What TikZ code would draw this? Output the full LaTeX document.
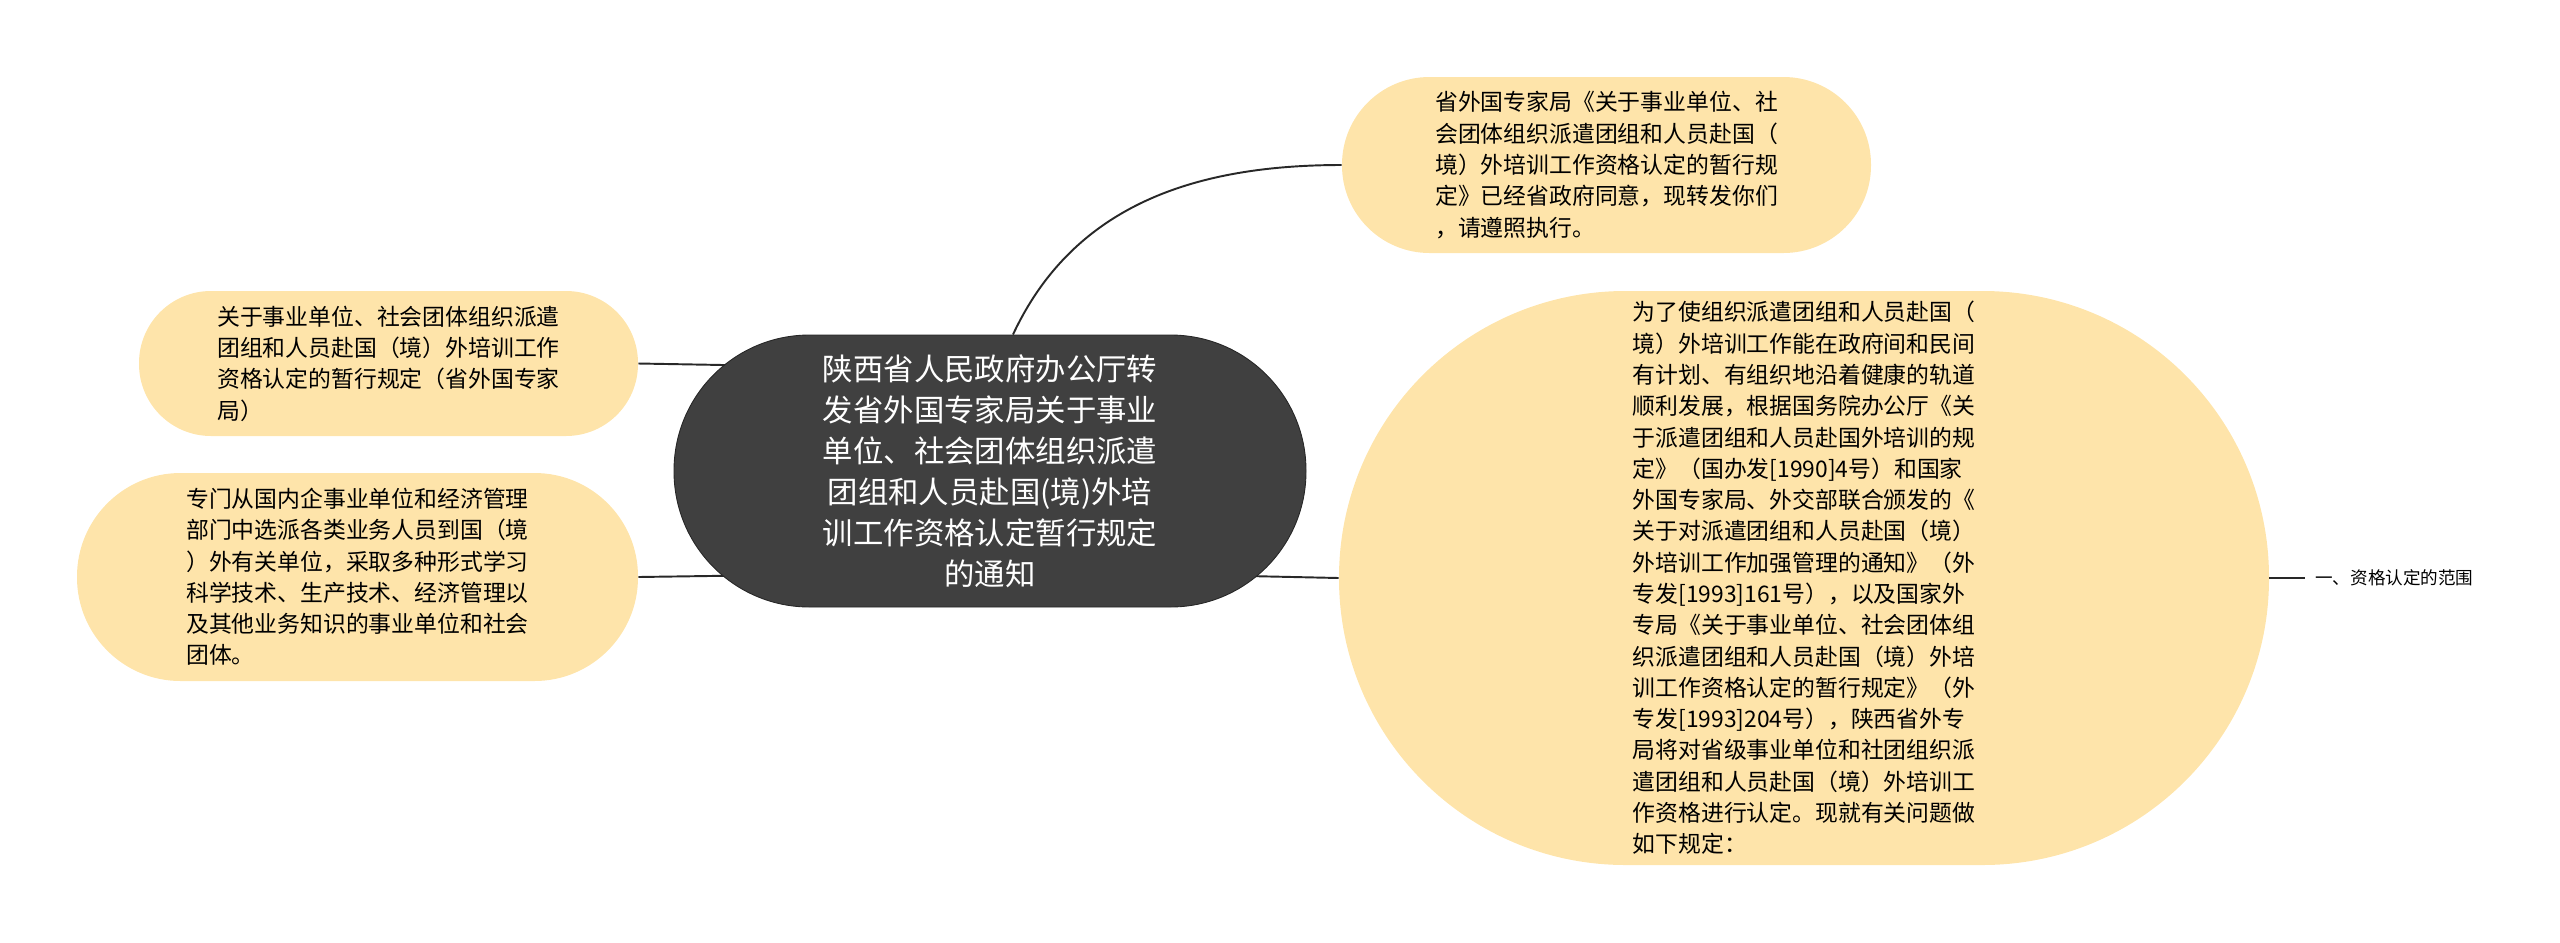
\documentclass[tikz,border=0pt]{standalone}
\usepackage{fontspec}
\usepackage{tikz}
\usetikzlibrary{calc, backgrounds}
\newfontfamily\cjk{Noto Sans CJK SC}
\definecolor{topicdark}{RGB}{64,64,64}
\definecolor{bubbleyellow}{RGB}{254,228,170}
\definecolor{linkdark}{RGB}{40,40,40}

\begin{document}
\begin{tikzpicture}[font=\cjk]
      % Styles
      \tikzset{topic/.style={draw=black!85, line width=0.5pt, fill=topicdark, text=white, align=center, inner sep=0pt, font=\cjk\fontsize{17.3}{23.3}\selectfont}}
      \tikzset{bubble/.style={fill=bubbleyellow, align=left, inner sep=0pt, font=\cjk\fontsize{13}{17.8}\selectfont}}
      \tikzset{link/.style={draw=linkdark, line width=1.1pt}}
      \tikzset{leaf/.style={anchor=west, inner xsep=0.2cm, inner ysep=0pt, font=\cjk\fontsize{10}{12}\selectfont}}

      \useasboundingbox (0,0) rectangle (51.2,-18.84);

      % --- The central topic ---
      \node[topic, minimum width=12.64cm, minimum height=5.44cm, rounded corners=2.71cm] (notice) at (19.8,-9.42)
        {陕西省人民政府办公厅转\\发省外国专家局关于事业\\单位、社会团体组织派遣\\团组和人员赴国(境)外培\\训工作资格认定暂行规定\\的通知};

      % --- Branches on the left ---
      \node[bubble, minimum width=9.98cm, minimum height=2.9cm, rounded corners=1.44cm] (provisions) at (7.77,-7.27)
        {关于事业单位、社会团体组织派遣\\团组和人员赴国（境）外培训工作\\资格认定的暂行规定（省外国专家\\局）};
      \node[bubble, minimum width=11.22cm, minimum height=4.16cm, rounded corners=2.07cm] (units) at (7.15,-11.54)
        {专门从国内企事业单位和经济管理\\部门中选派各类业务人员到国（境\\）外有关单位，采取多种形式学习\\科学技术、生产技术、经济管理以\\及其他业务知识的事业单位和社会\\团体。};

      % --- Branches on the right ---
      \node[bubble, minimum width=10.58cm, minimum height=3.52cm, rounded corners=1.75cm] (forward) at (32.13,-3.3)
        {省外国专家局《关于事业单位、社\\会团体组织派遣团组和人员赴国（\\境）外培训工作资格认定的暂行规\\定》已经省政府同意，现转发你们\\，请遵照执行。};
      \node[bubble, minimum width=18.6cm, minimum height=11.48cm, rounded corners=5.73cm] (basis) at (36.08,-11.56)
        {为了使组织派遣团组和人员赴国（\\境）外培训工作能在政府间和民间\\有计划、有组织地沿着健康的轨道\\顺利发展，根据国务院办公厅《关\\于派遣团组和人员赴国外培训的规\\定》（国办发[1990]4号）和国家\\外国专家局、外交部联合颁发的《\\关于对派遣团组和人员赴国（境）\\外培训工作加强管理的通知》（外\\专发[1993]161号），以及国家外\\专局《关于事业单位、社会团体组\\织派遣团组和人员赴国（境）外培\\训工作资格认定的暂行规定》（外\\专发[1993]204号），陕西省外专\\局将对省级事业单位和社团组织派\\遣团组和人员赴国（境）外培训工\\作资格进行认定。现就有关问题做\\如下规定：};
      \node[leaf] (scope_item) at (46.1,-11.56) {一、资格认定的范围};

      % --- The connectors, kept behind the bubbles ---
      \begin{scope}[on background layer]
        \draw[link] ($(notice.north)+(0.46,0)$) to[out=65, in=180] (forward.west);
        \draw[link] (provisions.east) -- ($(notice.west)+(2.12,2.1)$);
        \draw[link] (units.east) -- ($(notice.west)+(2.12,-2.08)$);
        \draw[link] ($(notice.east)+(-2.12,-2.08)$) -- (basis.west);
      \end{scope}
      \draw[link] (basis.east) -- (scope_item.west);

    \end{tikzpicture}
\end{document}
